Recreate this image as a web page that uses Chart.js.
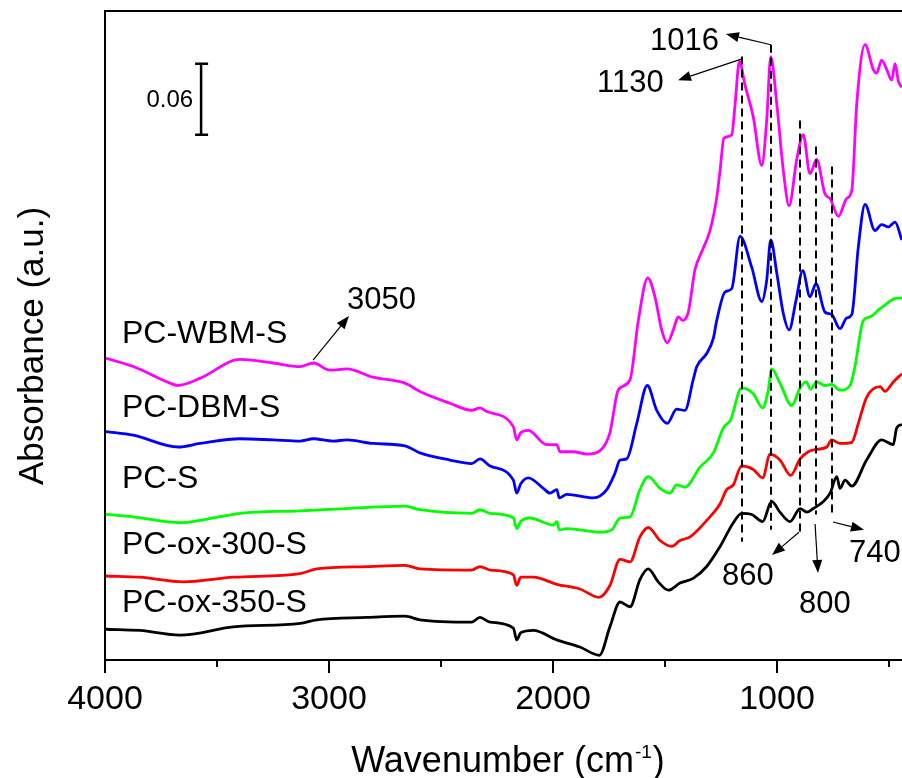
<!DOCTYPE html>
<html><head><meta charset="utf-8">
<script src="https://cdn.jsdelivr.net/npm/chart.js@4.4.0/dist/chart.umd.min.js"></script>
<style>html,body{margin:0;padding:0;background:#fff;overflow:hidden}#wrap{width:902px;height:778px;position:relative}</style>
</head><body><div id="wrap"><canvas id="c" width="902" height="778"></canvas></div>
<script>
// ---- data (wavenumber in cm-1, absorbance offset as plotted) ----
const seriesNames = ['PC-WBM-S','PC-DBM-S','PC-S','PC-ox-300-S','PC-ox-350-S'];
const seriesColors = ['#FF00FF','#0000FF','#00FF00','#FF0000','#000000'];

const wbmX = [3996,3874,3710,3677,3576,3397,3250,3129,3070,2996,2921,2804,2661,2594,2460,2363,2326,2296,2177,2162,2144,2110,2028,1983,1969,1909,1850,1790,1746,1709,1656,1619,1577,1545,1515,1490,1463,1441,1421,1396,1366,1336,1299,1269,1254,1237,1202,1187,1168,1143,1106,1068,1046,1028,1001,972,946,912,883,853,823,786,763,726,689,666,644,607,570,555,533,510,488,473,458,443];
const wbmY = [0.255,0.248,0.234,0.232,0.238,0.254,0.251,0.248,0.251,0.245,0.246,0.239,0.234,0.227,0.217,0.211,0.213,0.210,0.197,0.186,0.192,0.194,0.182,0.182,0.176,0.176,0.174,0.177,0.192,0.228,0.237,0.287,0.323,0.307,0.279,0.268,0.279,0.290,0.287,0.294,0.330,0.345,0.363,0.391,0.414,0.441,0.444,0.470,0.506,0.486,0.459,0.418,0.456,0.510,0.470,0.414,0.384,0.423,0.444,0.411,0.423,0.394,0.390,0.375,0.390,0.397,0.470,0.520,0.499,0.496,0.507,0.499,0.490,0.504,0.489,0.484];

const dbmX = [3996,3874,3673,3576,3397,3249,3129,3070,2981,2921,2802,2661,2594,2460,2363,2326,2281,2177,2162,2144,2110,2043,2013,1983,1972,1939,1820,1760,1723,1701,1671,1626,1579,1537,1490,1448,1411,1374,1358,1314,1284,1269,1232,1202,1165,1113,1068,1046,1028,1001,972,946,915,885,853,826,786,756,719,689,666,637,607,563,533,503,473,443];
const dbmY = [0.193,0.190,0.180,0.183,0.187,0.186,0.185,0.187,0.185,0.186,0.183,0.181,0.175,0.169,0.166,0.170,0.164,0.152,0.141,0.149,0.154,0.145,0.141,0.144,0.137,0.140,0.137,0.144,0.158,0.169,0.170,0.200,0.232,0.211,0.200,0.212,0.211,0.237,0.248,0.259,0.272,0.287,0.311,0.314,0.358,0.332,0.303,0.321,0.355,0.327,0.293,0.279,0.304,0.329,0.307,0.318,0.294,0.292,0.280,0.289,0.292,0.349,0.385,0.363,0.368,0.366,0.370,0.355];

const pcsX = [3996,3874,3665,3576,3397,3129,2921,2661,2594,2363,2326,2281,2177,2162,2144,2103,1999,1983,1972,1939,1790,1738,1701,1656,1612,1575,1522,1478,1448,1411,1344,1284,1240,1207,1158,1106,1064,1039,1024,987,934,897,870,850,823,786,756,719,674,652,615,585,540,518,481,442];
const pcsY = [0.123,0.121,0.116,0.118,0.124,0.126,0.128,0.130,0.127,0.124,0.127,0.124,0.120,0.111,0.117,0.120,0.114,0.117,0.110,0.111,0.108,0.110,0.120,0.121,0.144,0.155,0.145,0.141,0.148,0.146,0.163,0.175,0.196,0.203,0.230,0.225,0.213,0.228,0.246,0.234,0.215,0.230,0.235,0.229,0.235,0.232,0.233,0.228,0.232,0.248,0.287,0.290,0.297,0.300,0.305,0.306];

const ox300X = [3996,3844,3650,3427,3129,3055,2832,2661,2594,2363,2326,2281,2177,2162,2144,2088,1983,1880,1795,1746,1701,1656,1612,1575,1522,1470,1433,1388,1314,1254,1225,1195,1158,1106,1064,1031,987,939,897,860,823,778,756,719,666,637,600,540,518,481,442];
const ox300Y = [0.071,0.070,0.066,0.070,0.073,0.077,0.079,0.080,0.077,0.076,0.079,0.076,0.072,0.063,0.070,0.070,0.064,0.060,0.053,0.063,0.085,0.083,0.104,0.112,0.101,0.096,0.101,0.104,0.118,0.132,0.144,0.148,0.164,0.161,0.154,0.174,0.169,0.156,0.170,0.176,0.178,0.180,0.186,0.183,0.184,0.200,0.222,0.231,0.227,0.235,0.242];

const ox350X = [3996,3844,3665,3427,3129,3055,2832,2661,2594,2363,2326,2281,2177,2162,2144,2088,1983,1880,1793,1746,1701,1656,1612,1575,1530,1485,1433,1374,1314,1254,1195,1158,1113,1064,1024,987,942,897,867,838,793,763,733,719,696,666,600,533,481,466,442];
const ox350Y = [0.026,0.025,0.021,0.028,0.031,0.034,0.036,0.037,0.034,0.032,0.036,0.032,0.027,0.017,0.023,0.025,0.017,0.011,0.004,0.028,0.049,0.045,0.068,0.077,0.066,0.059,0.065,0.069,0.079,0.096,0.116,0.124,0.123,0.117,0.134,0.125,0.117,0.128,0.125,0.128,0.134,0.141,0.155,0.145,0.152,0.147,0.169,0.186,0.182,0.196,0.199];

const majorTicks = [4000,3000,2000,1000];
const minorTicks = [3500,2500,1500,500];

// band markers (dashed lines)
const dashWn = [1156,1027,897,826,754];
const dashTop = [0.510,0.520,0.456,0.434,0.417];
const dashBottom = [0.100,0.110,0.108,0.123,0.124];

// annotation arrows
const peakLabels = ['1016','1130','3050','860','800','740'];
const arrowFromX = [1027,1156,3071,902,830,750];
const arrowFromY = [0.520,0.508,0.2535,0.108,0.115,0.1166];
const arrowToX = [1228,1442,2911,1022,817,612];
const arrowToY = [0.529,0.490,0.2907,0.0887,0.0735,0.110];

// scale bar
const scaleBarWn = 3571;
const scaleBarLow = 0.444;
const scaleBarHigh = 0.504;
const scaleBarText = '0.06';

// ---- layout / style (not data) ----
const FONT = "'Liberation Sans', Arial, Helvetica, sans-serif";
const labelPos = [[650,50],[597,92],[347,309],[722,585],[799,613],[849,562]];
const nameBaselines = [343,417,488,554,612];

function pts(xs, ys){ return xs.map((v,i)=>({x:v, y:ys[i]})); }
const allX = [wbmX,dbmX,pcsX,ox300X,ox350X];
const allY = [wbmY,dbmY,pcsY,ox300Y,ox350Y];

const overlay = {
  id:'overlay',
  afterDatasetsDraw(chart){
    const {ctx, chartArea:a, scales:{x,y}} = chart;
    ctx.save();
    ctx.strokeStyle = '#000'; ctx.fillStyle = '#000';
    // frame
    ctx.lineWidth = 2; ctx.setLineDash([]);
    ctx.beginPath();
    ctx.moveTo(a.right+5, a.top); ctx.lineTo(a.left, a.top);
    ctx.lineTo(a.left, a.bottom); ctx.lineTo(a.right+5, a.bottom);
    ctx.stroke();
    // ticks
    ctx.beginPath();
    majorTicks.forEach(v=>{const p=x.getPixelForValue(v); ctx.moveTo(p,a.bottom); ctx.lineTo(p,a.bottom+13);});
    minorTicks.forEach(v=>{const p=x.getPixelForValue(v); ctx.moveTo(p,a.bottom); ctx.lineTo(p,a.bottom+7);});
    ctx.stroke();
    // dashed band lines
    ctx.lineWidth = 2; ctx.setLineDash([8,5]);
    dashWn.forEach((w,i)=>{
      const p = Math.round(x.getPixelForValue(w));
      ctx.beginPath();
      ctx.moveTo(p, y.getPixelForValue(dashTop[i]));
      ctx.lineTo(p, y.getPixelForValue(dashBottom[i]));
      ctx.stroke();
    });
    ctx.setLineDash([]);
    // arrows
    ctx.lineWidth = 1.2;
    arrowFromX.forEach((w,i)=>{
      const x0=x.getPixelForValue(w), y0=y.getPixelForValue(arrowFromY[i]);
      const x1=x.getPixelForValue(arrowToX[i]), y1=y.getPixelForValue(arrowToY[i]);
      const ang=Math.atan2(y1-y0,x1-x0), L=13, W=5;
      const bx=x1-L*Math.cos(ang), by=y1-L*Math.sin(ang);
      ctx.beginPath(); ctx.moveTo(x0,y0); ctx.lineTo(bx,by); ctx.stroke();
      ctx.beginPath(); ctx.moveTo(x1,y1);
      ctx.lineTo(bx+W*Math.sin(ang), by-W*Math.cos(ang));
      ctx.lineTo(bx-W*Math.sin(ang), by+W*Math.cos(ang));
      ctx.closePath(); ctx.fill();
    });
    // scale bar
    ctx.lineWidth = 2.5;
    const sx = x.getPixelForValue(scaleBarWn), st = y.getPixelForValue(scaleBarHigh), sb = y.getPixelForValue(scaleBarLow);
    ctx.beginPath();
    ctx.moveTo(sx,st); ctx.lineTo(sx,sb);
    ctx.moveTo(sx-6,st); ctx.lineTo(sx+7,st);
    ctx.moveTo(sx-6,sb); ctx.lineTo(sx+7,sb);
    ctx.stroke();
    ctx.font = '24px '+FONT; ctx.textAlign='right'; ctx.textBaseline='alphabetic';
    ctx.fillText(scaleBarText, sx-8, (st+sb)/2+8);
    // peak labels
    ctx.font = '31px '+FONT; ctx.textAlign='left';
    peakLabels.forEach((t,i)=>ctx.fillText(t, labelPos[i][0], labelPos[i][1]));
    // series names
    ctx.font = '32px '+FONT;
    seriesNames.forEach((t,i)=>ctx.fillText(t, a.left+17, nameBaselines[i]));
    // x title with superscript
    const f1 = '36px '+FONT, f2 = '19px '+FONT;
    ctx.font=f1; const w1 = ctx.measureText('Wavenumber (cm').width, w3 = ctx.measureText(')').width;
    ctx.font=f2; const w2 = ctx.measureText('-1').width;
    let sx0 = 507 - (w1+w2+w3)/2;
    ctx.font=f1; ctx.fillText('Wavenumber (cm', sx0, 772);
    ctx.font=f2; ctx.fillText('-1', sx0+w1+1, 758);
    ctx.font=f1; ctx.fillText(')', sx0+w1+w2+2, 772);
    // y title
    ctx.save();
    ctx.translate(43, 346); ctx.rotate(-Math.PI/2);
    ctx.font = '35px '+FONT; ctx.textAlign='center';
    ctx.fillText('Absorbance (a.u.)', 0, 0);
    ctx.restore();
    ctx.restore();
  }
};

new Chart(document.getElementById('c'), {
  type:'line',
  data:{ datasets: seriesNames.map((n,i)=>({
    label:n, data:pts(allX[i],allY[i]), borderColor:seriesColors[i], borderWidth:2.8,
    pointRadius:0, fill:false, cubicInterpolationMode:'monotone'
  }))},
  options:{
    responsive:false, animation:false, devicePixelRatio:1,
    layout:{padding:{left:105, top:11, right:0, bottom:0}},
    plugins:{legend:{display:false}, tooltip:{enabled:false}},
    scales:{
      x:{type:'linear', reverse:true, min:442, max:4000, position:'bottom',
         afterBuildTicks:(s)=>{ s.ticks = majorTicks.map(v=>({value:v})); },
         afterFit:(s)=>{ s.height = 118; },
         grid:{display:false, drawTicks:true, tickLength:13},
         border:{display:false},
         ticks:{autoSkip:false, maxRotation:0, padding:6, color:'#000', font:{family:FONT, size:34},
                callback:(v)=>String(v)}
      },
      y:{display:false, min:0, max:0.5485}
    }
  },
  plugins:[overlay]
});
</script></body></html>
